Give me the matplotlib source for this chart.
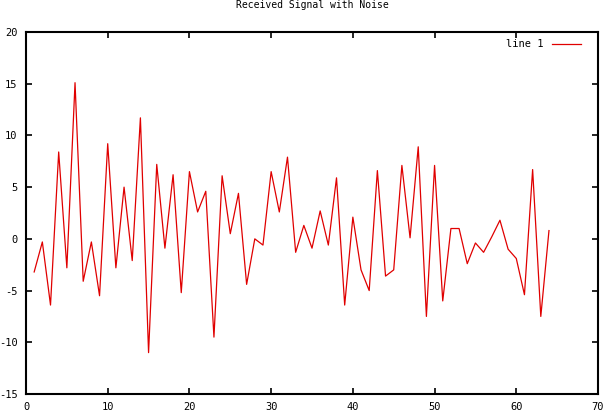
import matplotlib.pyplot as plt

# sample index and received values
n = list(range(1, 65))
signal = [-3.2, -0.3, -6.4, 8.4, -2.8, 15.1, -4.1, -0.3, -5.5, 9.2,
          -2.8, 5.0, -2.1, 11.7, -11.0, 7.2, -0.9, 6.2, -5.2, 6.5,
          2.6, 4.6, -9.5, 6.1, 0.5, 4.4, -4.4, 0.0, -0.6, 6.5,
          2.6, 7.9, -1.3, 1.3, -0.9, 2.7, -0.6, 5.9, -6.4, 2.1,
          -3.0, -5.0, 6.6, -3.6, -3.0, 7.1, 0.1, 8.9, -7.5, 7.1,
          -6.0, 1.0, 1.0, -2.4, -0.4, -1.3, 0.2, 1.8, -1.0, -1.9,
          -5.4, 6.7, -7.5, 0.8]

xticks = [0, 10, 20, 30, 40, 50, 60, 70]
yticks = [-15, -10, -5, 0, 5, 10, 15, 20]

plt.rcParams['font.family'] = 'DejaVu Sans Mono'
plt.rcParams['font.size'] = 7.5
plt.rcParams['axes.unicode_minus'] = False

fig = plt.figure(figsize=(6.04, 4.17), dpi=100)
ax = fig.add_axes([26 / 604, 1 - 394 / 417, 572 / 604, 362 / 417])

ax.plot(n, signal, color='#e00000', linewidth=0.9, label='line 1')

ax.set_xlim(0, 70)
ax.set_ylim(-15, 20)
ax.set_xticks(xticks)
ax.set_yticks(yticks)
ax.tick_params(direction='in', top=True, right=True, length=4, width=1.2, pad=6)
for s in ax.spines.values():
    s.set_linewidth(1.5)

ax.set_title('Received Signal with Noise', fontsize=7, pad=17)
ax.legend(loc='upper right', bbox_to_anchor=(0.983, 1.0), frameon=False,
          markerfirst=False, handlelength=2.8, borderaxespad=0.3, fontsize=7.5)

fig.savefig('out.png', dpi=100)
